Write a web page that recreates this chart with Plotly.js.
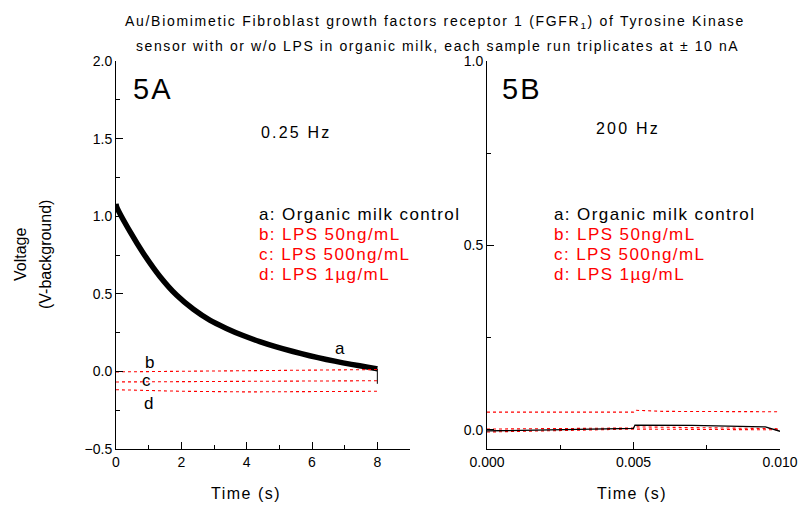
<!DOCTYPE html>
<html>
<head>
<meta charset="utf-8">
<script src="https://cdn.plot.ly/plotly-3.0.1.min.js"></script>
<style>
body{margin:0;padding:0;background:#fff;}
#chart{width:802px;height:512px;}
</style>
</head>
<body>
<div id="chart"></div>
<script>
// ---- Data ----
// Panel 5A (0.25 Hz)
const tA = [0, 0.02, 0.43, 0.84, 1.35, 1.86, 2.37, 2.87, 3.38, 3.89, 4.40, 4.91, 5.42, 5.93, 6.44, 6.95, 7.46, 7.97, 8.0];
const vA = [1.08, 1.06, 0.90, 0.76, 0.61, 0.49, 0.40, 0.33, 0.277, 0.231, 0.192, 0.158, 0.128, 0.101, 0.077, 0.055, 0.036, 0.018, 0.017];
const tAend = [8.0, 8.0];
const vAend = [0.017, -0.08];
const tB = [0, 4, 4.05, 8];
const vB = [-0.003, 0.003, 0.006, 0.012];
const tC = [0, 4, 4.05, 8];
const vC = [-0.068, -0.066, -0.062, -0.060];
const tD = [0, 2, 4, 6, 8];
const vD = [-0.118, -0.128, -0.132, -0.130, -0.128];
// Panel 5B (200 Hz)
const tB1 = [0, 0.005, 0.00505, 0.006, 0.010];
const vB1 = [0.048, 0.048, 0.053, 0.050, 0.049];
const tB2 = [0, 0.005, 0.00505, 0.007, 0.0095, 0.010];
const vB2 = [-0.003, 0.004, 0.013, 0.012, 0.008, -0.004];
const tB3 = [0, 0.005, 0.00505, 0.010];
const vB3 = [0.002, 0.005, 0.008, 0.003];
const tB4 = [0, 0.005, 0.010];
const vB4 = [-0.006, 0.002, 0.000];

const legendLines = ["a: Organic milk control", "b: LPS 50ng/mL", "c: LPS 500ng/mL", "d: LPS 1\u00b5g/mL"];
const legendColors = ["#000000", "#ff0000", "#ff0000", "#ff0000"];
const titleLines = ["Au/Biomimetic Fibroblast growth factors receptor 1 (FGFR<sub>1</sub>) of Tyrosine Kinase",
                    "sensor with or w/o LPS in organic milk, each sample run triplicates at \u00b1 10 nA"];

const W = 802, H = 512;
const px = v => v / W;
const py = v => 1 - v / H;

const red = '#ff0000';
const traces = [
  {x: tA, y: vA, xaxis: 'x', yaxis: 'y', mode: 'lines', line: {color: '#000', width: 5.5, shape: 'spline', smoothing: 0.6}},
  {x: tAend, y: vAend, xaxis: 'x', yaxis: 'y', mode: 'lines', line: {color: '#000', width: 1}},
  {x: tB, y: vB, xaxis: 'x', yaxis: 'y', mode: 'lines', line: {color: red, width: 1.1, dash: 'dot'}},
  {x: tC, y: vC, xaxis: 'x', yaxis: 'y', mode: 'lines', line: {color: red, width: 1.1, dash: 'dot'}},
  {x: tD, y: vD, xaxis: 'x', yaxis: 'y', mode: 'lines', line: {color: red, width: 1.1, dash: 'dot'}},
  {x: tB1, y: vB1, xaxis: 'x2', yaxis: 'y2', mode: 'lines', line: {color: red, width: 1.1, dash: 'dot'}},
  {x: tB3, y: vB3, xaxis: 'x2', yaxis: 'y2', mode: 'lines', line: {color: red, width: 1.1, dash: 'dot'}},
  {x: tB4, y: vB4, xaxis: 'x2', yaxis: 'y2', mode: 'lines', line: {color: red, width: 1.1, dash: 'dot'}},
  {x: tB2, y: vB2, xaxis: 'x2', yaxis: 'y2', mode: 'lines', line: {color: '#000', width: 1.3}}
];

const font = 'Liberation Sans, Arial, sans-serif';
const axisCommon = {
  showline: true, linecolor: '#000', linewidth: 1, mirror: false,
  showgrid: false, zeroline: false, ticks: 'inside', ticklen: 7, tickwidth: 1, tickcolor: '#000',
  tickfont: {family: font, size: 14, color: '#000'}, fixedrange: true
};

const ann = [];
function sp(text, ls) { return '<span style="letter-spacing:' + ls + 'px">' + text + '</span>'; }
function addText(text, x, y, size, color, xanchor, ls, angle) {
  ann.push({text: ls ? sp(text, ls) : text, xref: 'paper', yref: 'paper', x: px(x), y: py(y), xanchor: xanchor || 'left', yanchor: 'middle',
    showarrow: false, textangle: angle || 0, font: {family: font, size: size, color: color || '#000'}});
}
// title lines
addText(titleLines[0], 435, 22, 14, '#000', 'center', 1.7);
addText(titleLines[1], 437, 46, 14, '#000', 'center', 1.6);
addText('5A', 131, 89, 29, '#000', 'left', 2);
addText('5B', 500, 89, 29, '#000', 'left', 2);
addText('0.25 Hz', 259, 132, 16, '#000', 'left', 2.2);
addText('200 Hz', 594, 128, 16, '#000', 'left', 2.2);
legendLines.forEach((s, i) => {
  addText(s, 257, 214 + i * 20, 17, legendColors[i], 'left', 1.4);
  addText(s, 552, 214 + i * 20, 17, legendColors[i], 'left', 1.4);
});
// curve labels
addText('a', 340, 348, 17, '#000', 'center');
addText('b', 149, 362, 17, '#000', 'center');
addText('c', 146, 380, 17, '#000', 'center');
addText('d', 148, 403, 17, '#000', 'center');
// y-axis title
addText('Voltage', 20, 255, 16, '#000', 'center', 0, -90);
addText('(V-background)', 45, 255, 16, '#000', 'center', 0, -90);
// x-axis titles
addText('Time (s)', 246, 493, 16, '#000', 'center', 1.5);
addText('Time (s)', 632, 493, 16, '#000', 'center', 1.5);

const layout = {
  width: W, height: H,
  margin: {l: 0, r: 0, t: 0, b: 0},
  paper_bgcolor: '#fff', plot_bgcolor: 'rgba(0,0,0,0)',
  showlegend: false,
  xaxis: Object.assign({}, axisCommon, {domain: [px(116), px(410)], range: [0, 9], tickvals: [0, 2, 4, 6, 8],
    minor: {tickvals: [1, 3, 5, 7, 9], ticklen: 4, tickcolor: '#000', ticks: 'inside'}, anchor: 'y'}),
  yaxis: Object.assign({}, axisCommon, {domain: [1 - 449 / H, 1 - 61 / H], range: [-0.5, 2.0], tickvals: [-0.5, 0, 0.5, 1, 1.5, 2],
    tickformat: '.1f', minor: {tickvals: [-0.25, 0.25, 0.75, 1.25, 1.75], ticklen: 4, tickcolor: '#000', ticks: 'inside'}, anchor: 'x'}),
  xaxis2: Object.assign({}, axisCommon, {domain: [px(487), px(780)], range: [0, 0.010], tickvals: [0, 0.005, 0.010],
    tickformat: '.3f', minor: {tickvals: [0.0025, 0.0075], ticklen: 4, tickcolor: '#000', ticks: 'inside'}, anchor: 'y2'}),
  yaxis2: Object.assign({}, axisCommon, {domain: [1 - 449 / H, 1 - 61 / H], range: [-0.052, 1.0], tickvals: [0, 0.5, 1.0],
    tickformat: '.1f', minor: {tickvals: [0.25, 0.75], ticklen: 4, tickcolor: '#000', ticks: 'inside'}, anchor: 'x2'}),
  annotations: ann
};

Plotly.newPlot('chart', traces, layout, {displayModeBar: false, staticPlot: true});
</script>
</body>
</html>
